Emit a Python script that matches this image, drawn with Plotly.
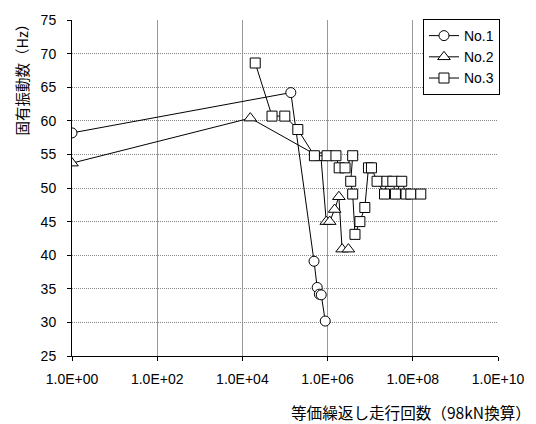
import plotly.graph_objects as go

# ---- data ----
no1_x = [1, 1.37e5, 4.8e5, 5.7e5, 6.4e5, 7.1e5, 8.8e5]
no1_y = [58.2, 64.2, 39.1, 35.2, 34.2, 34.1, 30.2]

no2_x = [1, 1.53e4, 7.0e5, 9.3e5, 1.12e6, 1.46e6, 1.84e6, 2.19e6, 3.08e6]
no2_y = [53.7, 60.4, 54.5, 45.0, 45.0, 46.8, 48.7, 40.9, 40.9]

no3_x = [2.0e4, 4.96e4, 9.9e4, 2.0e5, 4.9e5, 9.7e5, 1.57e6, 1.87e6, 2.57e6,
         3.88e6, 3.49e6, 3.88e6, 4.39e6, 5.73e6, 7.48e6, 9.1e6, 1.07e7,
         1.45e7, 2.17e7, 2.47e7, 3.4e7, 3.91e7, 5.5e7, 6.93e7, 9.0e7, 1.54e8]
no3_y = [68.6, 60.7, 60.7, 58.7, 54.8, 54.8, 54.8, 53.0, 53.0,
         54.8, 51.0, 49.1, 43.1, 45.0, 47.1, 53.0, 53.0,
         51.0, 49.1, 51.0, 51.0, 49.1, 51.0, 49.1, 49.1, 49.1]

x_tickvals = [1, 1e2, 1e4, 1e6, 1e8, 1e10]
x_ticktext = ["1.0E+00", "1.0E+02", "1.0E+04", "1.0E+06", "1.0E+08", "1.0E+10"]
y_tickvals = [25, 30, 35, 40, 45, 50, 55, 60, 65, 70, 75]

series = [
    ("No.1", no1_x, no1_y, "circle", 10),
    ("No.2", no2_x, no2_y, "triangle-up", 11),
    ("No.3", no3_x, no3_y, "square", 10),
]

NUM_FONT = "Liberation Sans, Arial, sans-serif"
JP_FONT = "Noto Sans CJK JP, sans-serif"

fig = go.Figure()
for name, xs, ys, sym, sz in series:
    fig.add_trace(go.Scatter(
        x=xs, y=ys, name=name, mode="lines+markers",
        line=dict(color="black", width=1),
        marker=dict(symbol=sym, size=sz, color="white",
                    line=dict(color="black", width=1)),
    ))

W, H = 536, 424
L, R, T, B = 72, 33, 14, 68
pw, ph = W - L - R, H - T - B

fig.update_layout(
    width=W, height=H,
    margin=dict(l=L, r=R, t=T, b=B, pad=0),
    paper_bgcolor="white", plot_bgcolor="white",
    font=dict(family=NUM_FONT, size=14, color="black"),
    showlegend=True,
    legend=dict(
        x=(505 - L) / pw, y=(H - B - 13) / ph, xanchor="right", yanchor="top",
        bgcolor="white", bordercolor="black", borderwidth=1,
        font=dict(family=NUM_FONT, size=14, color="black"),
        itemwidth=30, tracegroupgap=0,
    ),
    xaxis=dict(
        type="log", range=[0, 10],
        tickvals=x_tickvals, ticktext=x_ticktext,
        showgrid=True, gridcolor="#999999", gridwidth=1,
        showline=True, linecolor="black", linewidth=1, mirror=False,
        ticks="outside", ticklen=4, tickcolor="black",
        ticklabelstandoff=6,
        zeroline=False,
        tickfont=dict(family=NUM_FONT, size=14),
    ),
    yaxis=dict(
        range=[25, 75], tickvals=y_tickvals,
        showgrid=True, gridcolor="#888888", gridwidth=1, griddash="1px,1px",
        showline=True, linecolor="black", linewidth=1,
        ticks="outside", ticklen=4, tickcolor="black",
        ticklabelstandoff=8,
        zeroline=False,
        tickfont=dict(family=NUM_FONT, size=14),
    ),
    annotations=[
        dict(text="固有振動数（Hz）", textangle=-90, xref="paper", yref="paper",
             x=(21 - L) / pw, y=(H - B - 71) / ph, xanchor="center", yanchor="middle",
             showarrow=False, font=dict(family=JP_FONT, size=14.5, color="black")),
        dict(text="等価繰返し走行回数（98kN換算）", xref="paper", yref="paper",
             x=(292 - L) / pw, y=(H - B - 413) / ph, xanchor="left", yanchor="middle",
             showarrow=False, font=dict(family=JP_FONT, size=15.6, color="black")),
    ],
)

fig.write_html(
    "out.html",
    config={"displayModeBar": False},
    post_script="document.body.style.margin='0';document.body.style.overflow='hidden';",
)
